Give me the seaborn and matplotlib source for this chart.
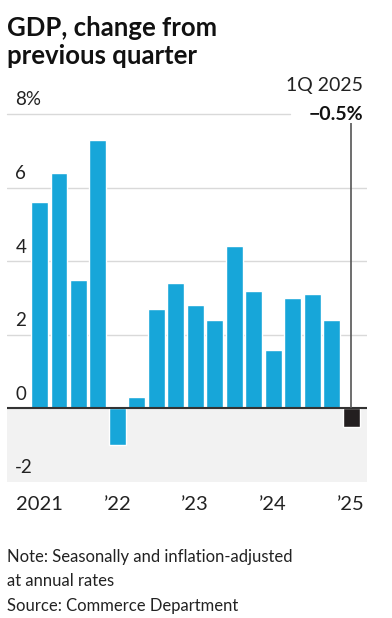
import numpy as np
import pandas as pd
import matplotlib
matplotlib.use("Agg")
import matplotlib.pyplot as plt
import seaborn as sns

# ── data ───────────────────────────────────────────────────────────
quarters = ["1Q21", "2Q21", "3Q21", "4Q21",
            "1Q22", "2Q22", "3Q22", "4Q22",
            "1Q23", "2Q23", "3Q23", "4Q23",
            "1Q24", "2Q24", "3Q24", "4Q24",
            "1Q25"]
gdp_change = [5.6, 6.4, 3.5, 7.3,
              -1.0, 0.3, 2.7, 3.4,
              2.8, 2.4, 4.4, 3.2,
              1.6, 3.0, 3.1, 2.4,
              -0.5]
tick_quarters = ["1Q21", "1Q22", "1Q23", "1Q24", "1Q25"]
tick_labels = ["2021", "\u201922", "\u201923", "\u201924", "\u201925"]
y_ticks = [-2, 0, 2, 4, 6, 8]
y_tick_labels = ["-2", "0", "2", "4", "6", "8%"]

BLUE = "#17A6D9"
BLACK = "#231F20"

df = pd.DataFrame({"quarter": quarters, "value": gdp_change})
df["kind"] = ["latest" if q == quarters[-1] else "past" for q in quarters]

sns.set_style("white")
plt.rcParams["font.family"] = ["Lato", "DejaVu Sans"]

W, H = 392, 618
fig = plt.figure(figsize=(W / 100, H / 100), dpi=100)
ax = fig.add_axes([7 / W, 1 - 482 / H, 360 / W, 368 / H])

# shaded negative zone + gridlines
ax.axhspan(-2, 0, color="#F2F2F2", zorder=0, lw=0)
for y in y_ticks[1:-1]:
    ax.axhline(y, color="#D9D9D9", lw=1, zorder=1)
ax.plot([-1.67, 12.85], [8, 8], color="#D9D9D9", lw=1, zorder=1, clip_on=False)

sns.barplot(data=df, x="quarter", y="value", hue="kind", order=quarters,
            palette={"past": BLUE, "latest": BLACK}, width=0.87, dodge=False,
            legend=False, saturation=1, ax=ax, zorder=2)

ax.axhline(0, color="#333333", lw=1.5, zorder=3)

last = len(quarters) - 1
ax.vlines(last, 0, 7.75, color="#555555", lw=1.2, zorder=3)

ax.set_xlim(-1.67, last + 0.82)
ax.set_ylim(-2, 8)
ax.set_xlabel("")
ax.set_ylabel("")
sns.despine(ax=ax, left=True, bottom=True, top=True, right=True)

ax.set_yticks([])
ax.set_xticks([quarters.index(q) for q in tick_quarters])
ax.set_xticklabels(tick_labels, fontsize=14.5, color="#222222")
ax.tick_params(axis="x", length=6, width=1.2, color="#555555", pad=4,
               direction="out")

for y, lab in zip(y_ticks, y_tick_labels):
    ax.annotate(lab, xy=(0, y), xycoords=("axes fraction", "data"),
                xytext=(6, 4), textcoords="offset points",
                fontsize=13.5, color="#222222", va="bottom", ha="left")

# latest value callout
fig.text(363 / W, 1 - 86 / H, "1Q 2025", ha="right", va="center",
         fontsize=14, color="#222222")
fig.text(363 / W, 1 - 114 / H, "\u22120.5%", ha="right", va="center",
         fontsize=14, fontweight="bold", color="#111111")

# title
fig.text(7 / W, 1 - 36 / H, "GDP, change from", ha="left", va="baseline",
         fontsize=18.5, fontweight="bold", color="#111111")
fig.text(7 / W, 1 - 64 / H, "previous quarter", ha="left", va="baseline",
         fontsize=18.5, fontweight="bold", color="#111111")

# notes
notes = ["Note: Seasonally and inflation-adjusted",
         "at annual rates",
         "Source: Commerce Department"]
for i, line in enumerate(notes):
    fig.text(7 / W, 1 - (557 + 24.5 * i) / H, line, ha="left", va="center",
             fontsize=12, color="#222222")

fig.savefig("out.png", dpi=100)
